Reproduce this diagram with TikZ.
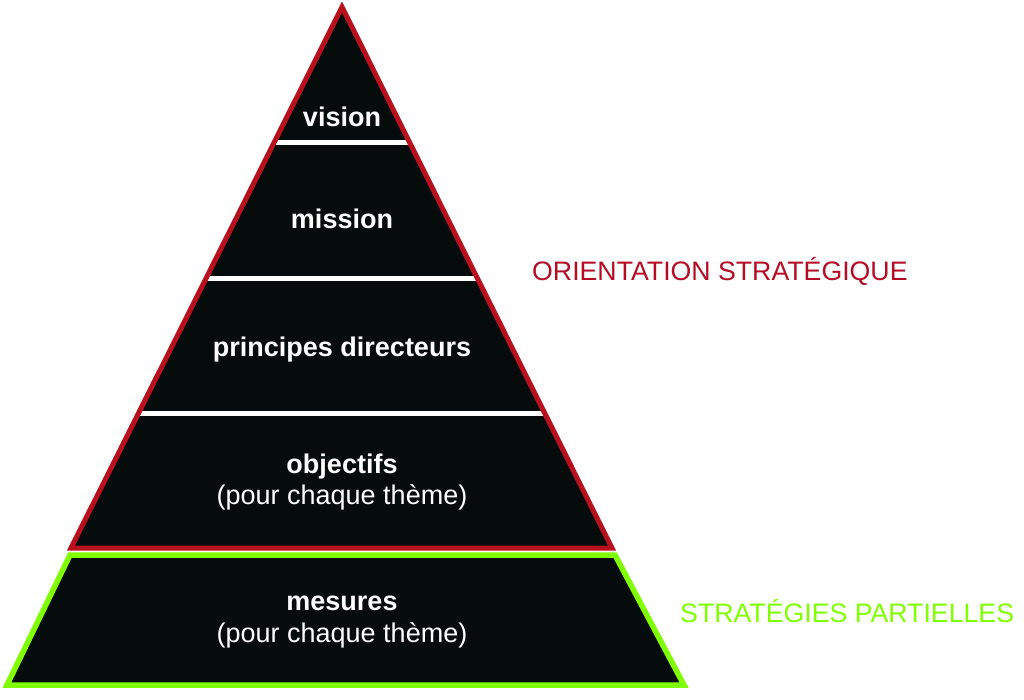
\documentclass[tikz,border=0pt]{standalone}
\usepackage{fontspec}
\setmainfont{Liberation Sans}
\usetikzlibrary{calc}
\definecolor{pyrred}{RGB}{185,16,30}
\definecolor{pyrgreen}{RGB}{128,255,0}
\definecolor{pyrblack}{RGB}{6,11,11}
\definecolor{txtred}{RGB}{180,12,36}
\tikzset{
  lvl/.style={text=white,inner sep=0pt,anchor=base,font=\fontsize{27}{32}\selectfont\bfseries},
  sub/.style={text=white,inner sep=0pt,anchor=base,font=\fontsize{27}{32}\selectfont},
  sidelabel/.style={inner sep=0pt,anchor=base west,font=\fontsize{26.7}{31}\selectfont},
  sepline/.style={white,line width=5pt},
}
\begin{document}
\begin{tikzpicture}[x=1pt,y=-1pt]
\useasboundingbox (0,0) rectangle (1024,699);
\coordinate (apex) at (342,7);
\coordinate (bl) at (71,548);
\coordinate (br) at (612,548);
\coordinate (gtl) at (70,555);
\coordinate (gtr) at (615,555);
\coordinate (gbr) at (684,685);
\coordinate (gbl) at (7,685);
% lower trapezoid
\fill[pyrblack] (gtl) -- (gtr) -- (gbr) -- (gbl) -- cycle;
\draw[pyrgreen,line width=5.5pt,line join=miter] (gtl) -- (gtr) -- (gbr) -- (gbl) -- cycle;
% triangle
\fill[pyrblack] (apex) -- (br) -- (bl) -- cycle;
\draw[sepline] ($(apex)!0.25!(bl)$) -- ($(apex)!0.25!(br)$);
\draw[sepline] ($(apex)!0.502!(bl)$) -- ($(apex)!0.502!(br)$);
\draw[sepline] ($(apex)!0.752!(bl)$) -- ($(apex)!0.752!(br)$);
\draw[pyrred,line width=5pt,line join=miter] (apex) -- (br) -- (bl) -- cycle;
% texts
\node[lvl] (vision) at (342,126) {vision};
\node[lvl] (mission) at (342,228) {mission};
\node[lvl] (principes) at (342,356) {principes directeurs};
\node[lvl] (objectifs) at (342,473) {objectifs};
\node[sub] (objsub) at (342,504) {(pour chaque thème)};
\node[lvl] (mesures) at (342,610) {mesures};
\node[sub] (messub) at (342,642) {(pour chaque thème)};
\node[sidelabel,text=txtred] (orient) at (532,280) {ORIENTATION STRATÉGIQUE};
\node[sidelabel,text=pyrgreen] (partial) at (680,622) {STRATÉGIES PARTIELLES};
\end{tikzpicture}
\end{document}
